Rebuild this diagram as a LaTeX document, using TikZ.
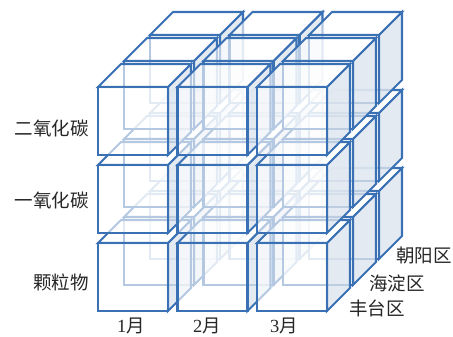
\documentclass[tikz,border=0pt]{standalone}
\usepackage{fontspec}
\setmainfont{Liberation Serif}
\newfontfamily\cjk{Noto Sans CJK SC}
\definecolor{edgeblue}{HTML}{3A70B4}
\definecolor{sidefill}{HTML}{DDE5EE}
\tikzset{
  frontface/.style={draw=edgeblue, line width=2.1pt, fill=white, fill opacity=0.62, line join=miter},
  topface/.style={draw=edgeblue, line width=2.1pt, fill=white, fill opacity=0.62, line join=miter},
  sideface/.style={draw=edgeblue, line width=2.1pt, fill=sidefill, fill opacity=0.8, line join=miter},
  lbl/.style={font=\cjk\fontsize{18.5}{20}\selectfont, inner sep=0pt, text=black!85},
  mlbl/.style={font=\fontsize{18.5}{20}\selectfont, inner sep=0pt, text=black!85}
}
\begin{document}
\begin{tikzpicture}[x=1pt,y=1pt]
\useasboundingbox (0,0) rectangle (453,337);
\def\cw{70}\def\ch{68}\def\cd{23}
\foreach \k in {2,1,0}{
  \foreach \j in {0,1,2}{
    \foreach \i in {0,1,2}{
      \pgfmathsetmacro{\X}{98+79.5*\i+26*\k}
      \pgfmathsetmacro{\Y}{26+78*\j+26*\k}
      \draw[sideface] (\X+\cw,\Y) -- ++(\cd,\cd) -- ++(0,\ch) -- (\X+\cw,\Y+\ch) -- cycle;
      \draw[topface] (\X,\Y+\ch) -- (\X+\cw,\Y+\ch) -- ++(\cd,\cd) -- (\X+\cd,\Y+\ch+\cd) -- cycle;
      \draw[frontface] (\X,\Y) rectangle (\X+\cw,\Y+\ch);
    }
  }
}
\node[lbl, anchor=east] (r3) at (89,209) {二氧化碳};
\node[lbl, anchor=east] (r2) at (89,137) {一氧化碳};
\node[lbl, anchor=east] (r1) at (89,55) {颗粒物};
\node[mlbl] (m1) at (131,11) {1{\cjk 月}};
\node[mlbl] (m2) at (207,11) {2{\cjk 月}};
\node[mlbl] (m3) at (284,11) {3{\cjk 月}};
\node[lbl, anchor=west] (d3) at (396,82) {朝阳区};
\node[lbl, anchor=west] (d2) at (369,54) {海淀区};
\node[lbl, anchor=west] (d1) at (349,29) {丰台区};
\end{tikzpicture}
\end{document}
